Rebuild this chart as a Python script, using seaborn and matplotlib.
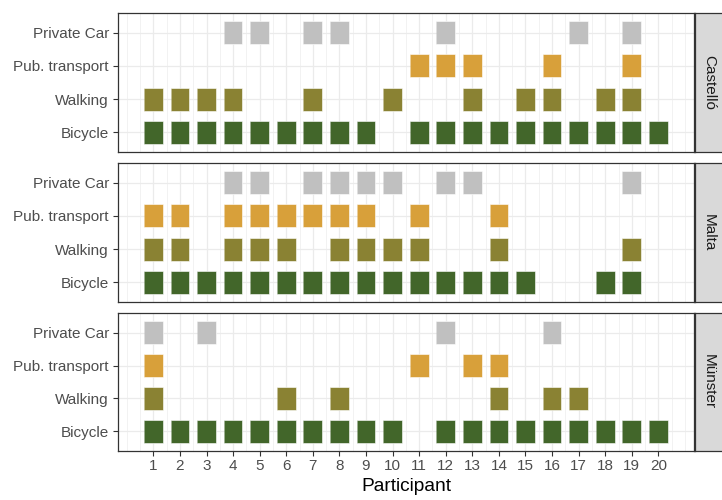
import pandas as pd
import matplotlib.pyplot as plt
import seaborn as sns

# Modos de transporte (de baixo para cima) e cidades
modes = ['Bicycle', 'Walking', 'Pub. transport', 'Private Car']
cities = ['Castelló', 'Malta', 'Münster']
participants = list(range(1, 21))
mode_colors = {'Bicycle': '#42662A', 'Walking': '#8A8233',
               'Pub. transport': '#D8A03A', 'Private Car': '#C0C0C0'}

# Participantes que usam cada modo, por cidade
castello_bicycle = [1, 2, 3, 4, 5, 6, 7, 8, 9, 11, 12, 13, 14, 15, 16, 17, 18, 19, 20]
castello_walking = [1, 2, 3, 4, 7, 10, 13, 15, 16, 18, 19]
castello_pub = [11, 12, 13, 16, 19]
castello_car = [4, 5, 7, 8, 12, 17, 19]

malta_bicycle = [1, 2, 3, 4, 5, 6, 7, 8, 9, 10, 11, 12, 13, 14, 15, 18, 19]
malta_walking = [1, 2, 4, 5, 6, 8, 9, 10, 11, 14, 19]
malta_pub = [1, 2, 4, 5, 6, 7, 8, 9, 11, 14]
malta_car = [4, 5, 7, 8, 9, 10, 12, 13, 19]

munster_bicycle = [1, 2, 3, 4, 5, 6, 7, 8, 9, 10, 12, 13, 14, 15, 16, 17, 18, 19, 20]
munster_walking = [1, 6, 8, 14, 16, 17]
munster_pub = [1, 11, 13, 14]
munster_car = [1, 3, 12, 16]

usage = {
    'Castelló': [castello_bicycle, castello_walking, castello_pub, castello_car],
    'Malta': [malta_bicycle, malta_walking, malta_pub, malta_car],
    'Münster': [munster_bicycle, munster_walking, munster_pub, munster_car],
}

rows = []
for city in cities:
    for mode, ids in zip(modes, usage[city]):
        for p in ids:
            rows.append({'city': city, 'mode': mode, 'code': modes.index(mode), 'participant': p})
df = pd.DataFrame(rows)

sns.set_style('white')
plt.rcParams['font.family'] = ['Liberation Sans', 'DejaVu Sans']

fig = plt.figure(figsize=(7.22, 5), dpi=100)
W, H = 722, 500
left, right = 118, 694
panels = [(13, 152), (163, 302), (313, 451)]

# marcador retangular (tile)
tile = [(-0.41, -0.5), (0.41, -0.5), (0.41, 0.5), (-0.41, 0.5)]

for i, city in enumerate(cities):
    top, bot = panels[i]
    ax = fig.add_axes([left / W, 1 - bot / H, (right - left) / W, (bot - top) / H])
    sub = df[df['city'] == city]
    sns.scatterplot(data=sub, x='participant', y='code', hue='mode', palette=mode_colors,
                    marker=tile, s=272, edgecolor='white', linewidth=0.4,
                    legend=False, ax=ax, zorder=3)
    ax.set_xlim(-0.33, 21.34)
    ax.set_ylim(-0.6, 3.6)
    ax.set_yticks(range(len(modes)))
    ax.set_yticklabels(modes)
    ax.set_xticks(participants)
    ax.set_xticks([0] + [p - 0.5 for p in participants] + [20.5, 21], minor=True)
    ax.grid(which='major', color='#EBEBEB', linewidth=0.9)
    ax.grid(which='minor', axis='x', color='#EBEBEB', linewidth=0.45)
    ax.set_axisbelow(True)
    ax.tick_params(which='minor', length=0)
    ax.tick_params(axis='y', left=True, length=3.5, width=0.8, color='#333333',
                   labelcolor='#4D4D4D', labelsize=11, pad=3)
    ax.set_ylabel('')
    for sp in ax.spines.values():
        sp.set_color('#333333')
        sp.set_linewidth(0.9)
    if i < 2:
        ax.tick_params(axis='x', bottom=False, labelbottom=False)
        ax.set_xlabel('')
    else:
        ax.tick_params(axis='x', bottom=True, length=3.5, width=0.8, color='#333333',
                       labelcolor='#4D4D4D', labelsize=11, pad=2)
        ax.set_xlabel('Participant', fontsize=13.8, color='black', labelpad=4)

    # faixa lateral com o nome da cidade
    sax = fig.add_axes([695 / W, 1 - bot / H, 30 / W, (bot - top) / H])
    sax.set_facecolor('#D9D9D9')
    sax.set_xticks([])
    sax.set_yticks([])
    for sp in sax.spines.values():
        sp.set_color('#333333')
        sp.set_linewidth(0.9)
    sax.text(14 / 30, 0.5, city, rotation=270, ha='center', va='center',
             fontsize=11, color='#1A1A1A', transform=sax.transAxes)

fig.savefig('out.png', dpi=100)
